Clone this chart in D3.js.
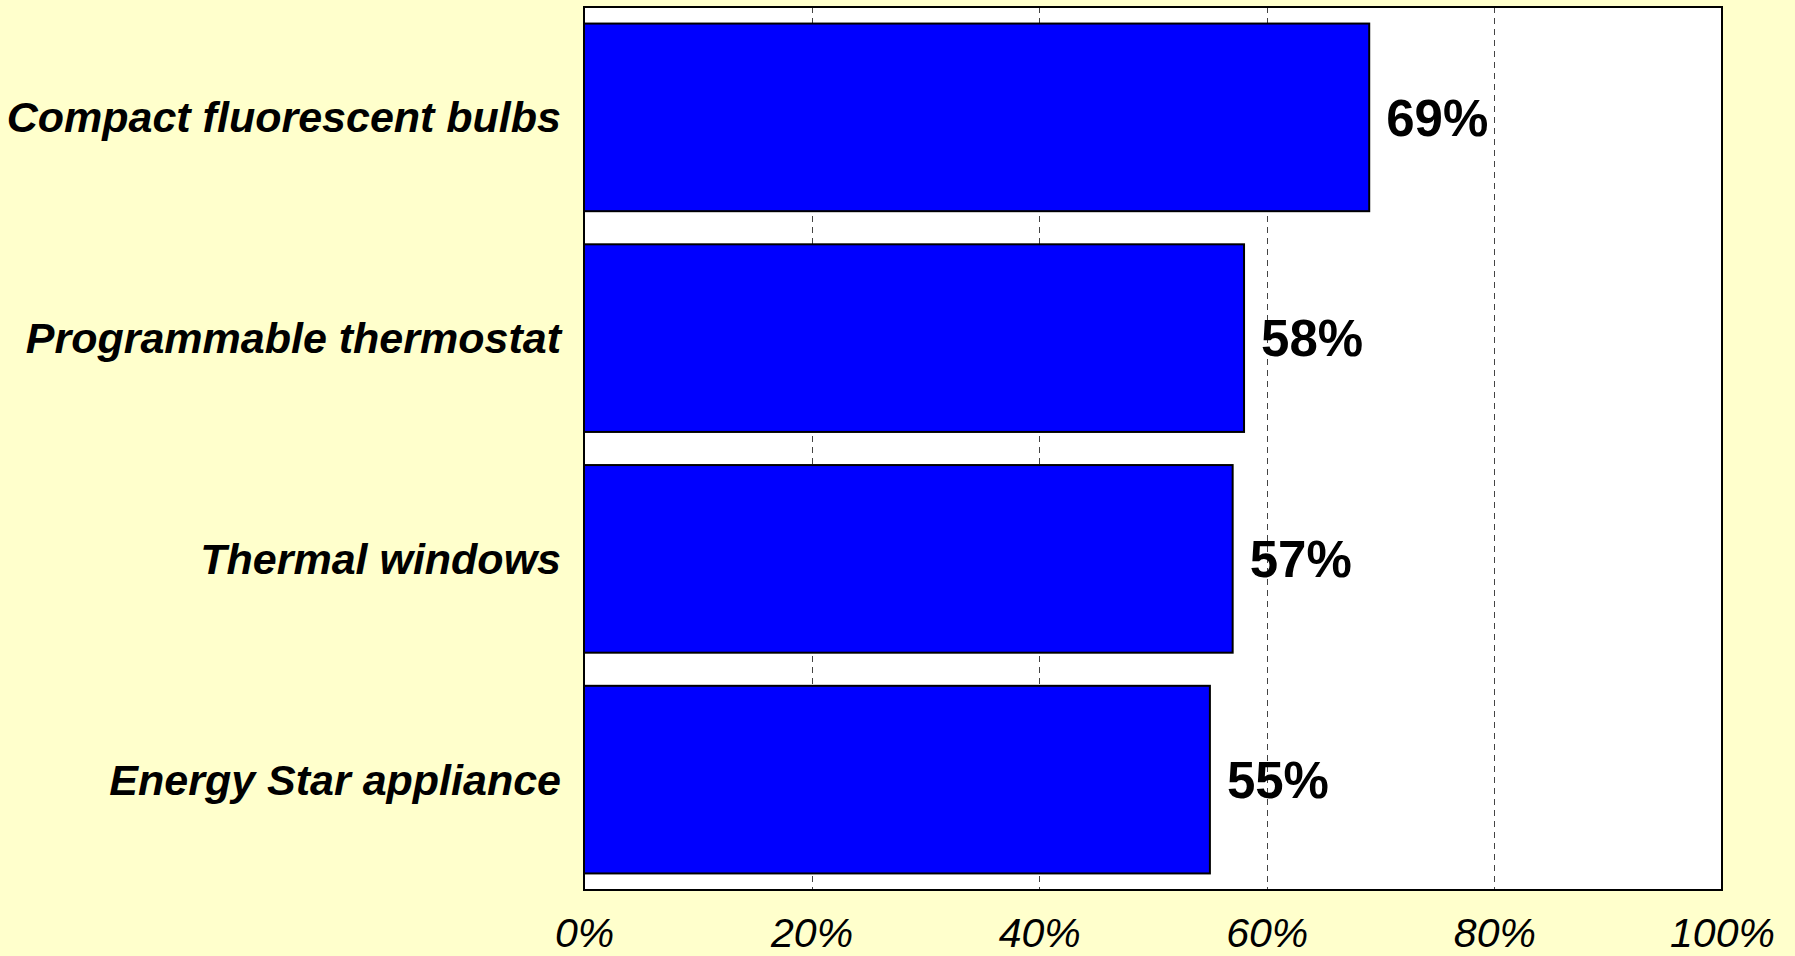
<!DOCTYPE html>
<html>
<head>
<meta charset="utf-8">
<script src="https://cdn.jsdelivr.net/npm/d3@7"></script>
<style>
  html, body { margin: 0; padding: 0; background: #FFFFCC; }
  svg { display: block; }
</style>
</head>
<body>
<svg id="chart" width="1795" height="956"></svg>
<script>
const categories = ["Compact fluorescent bulbs", "Programmable thermostat", "Thermal windows", "Energy Star appliance"];
const values = [69, 58, 57, 55];
const tickValues = [0, 20, 40, 60, 80, 100];
const tickLabels = ["0%", "20%", "40%", "60%", "80%", "100%"];

const W = 1795, H = 956;
const margin = { left: 584, right: 73, top: 7, bottom: 66 };
const svg = d3.select("#chart");

svg.append("rect").attr("width", W).attr("height", H).attr("fill", "#FFFFCC");

const x = d3.scaleLinear().domain([0, 100]).range([margin.left, W - margin.right]);
const y = d3.scaleBand().domain(categories).range([margin.top, H - margin.bottom])
  .paddingInner(0.15).paddingOuter(0.075);

// plot background
svg.append("rect")
  .attr("x", x(0)).attr("y", margin.top)
  .attr("width", x(100) - x(0)).attr("height", H - margin.bottom - margin.top)
  .attr("fill", "#FFFFFF");

// gridlines
svg.append("g").selectAll("line")
  .data(tickValues.filter(v => v > 0 && v < 100))
  .join("line")
  .attr("x1", d => Math.round(x(d)) + 0.5).attr("x2", d => Math.round(x(d)) + 0.5)
  .attr("y1", margin.top).attr("y2", H - margin.bottom)
  .attr("stroke", "#444444").attr("stroke-width", 1)
  .attr("stroke-dasharray", "6,5");

// bars
svg.append("g").selectAll("rect")
  .data(values)
  .join("rect")
  .attr("x", x(0))
  .attr("y", (d, i) => y(categories[i]))
  .attr("width", d => x(d) - x(0))
  .attr("height", y.bandwidth())
  .attr("fill", "#0000FF")
  .attr("stroke", "#000000").attr("stroke-width", 2);

// value labels
svg.append("g").selectAll("text")
  .data(values)
  .join("text")
  .attr("x", d => x(d) + 17)
  .attr("y", (d, i) => y(categories[i]) + y.bandwidth() / 2)
  .attr("dy", "0.36em")
  .attr("font-family", "Liberation Sans, Arial, sans-serif")
  .attr("font-weight", "bold")
  .attr("font-size", 51)
  .attr("fill", "#000")
  .text(d => d + "%");

// category labels
svg.append("g").selectAll("text")
  .data(categories)
  .join("text")
  .attr("x", margin.left - 23)
  .attr("y", d => y(d) + y.bandwidth() / 2)
  .attr("dy", "0.35em")
  .attr("text-anchor", "end")
  .attr("font-family", "Liberation Sans, Arial, sans-serif")
  .attr("font-weight", "bold")
  .attr("font-style", "italic")
  .attr("font-size", 43)
  .attr("fill", "#000")
  .text(d => d);

// x axis
const xAxis = d3.axisBottom(x).tickValues(tickValues)
  .tickFormat((d, i) => tickLabels[i]).tickSize(0).tickPadding(0);
const gx = svg.append("g").attr("transform", `translate(0,${H - margin.bottom})`).call(xAxis);
gx.select(".domain").remove();
gx.selectAll("text")
  .attr("y", 57).attr("dy", 0)
  .attr("font-family", "Liberation Sans, Arial, sans-serif")
  .attr("font-style", "italic")
  .attr("font-size", 41)
  .attr("fill", "#000");

// frame
svg.append("rect")
  .attr("x", x(0)).attr("y", margin.top)
  .attr("width", x(100) - x(0)).attr("height", H - margin.bottom - margin.top)
  .attr("fill", "none").attr("stroke", "#000").attr("stroke-width", 2);
</script>
</body>
</html>
